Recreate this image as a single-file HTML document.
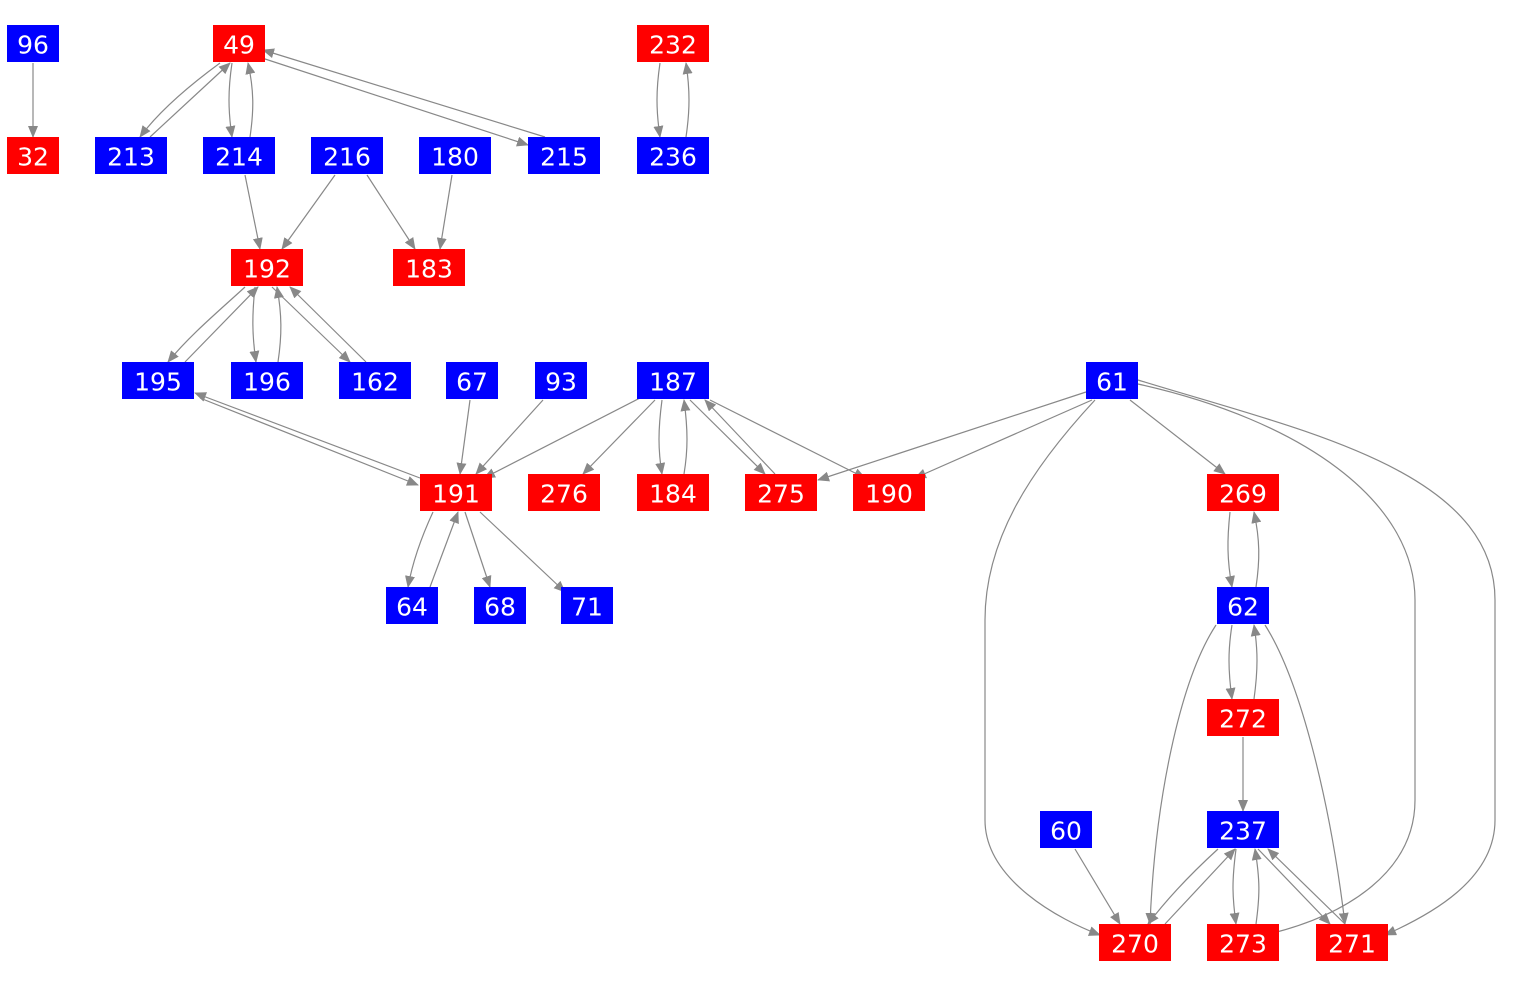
<!DOCTYPE html>
<html><head><meta charset="utf-8"><style>
html,body{margin:0;padding:0;background:#fff;}
svg{display:block;}
text{font-family:"DejaVu Sans","Liberation Sans",sans-serif;font-size:25px;fill:#fff;text-anchor:middle;dominant-baseline:central;}
.e{fill:none;stroke:#888;stroke-width:1.2;marker-end:url(#a);}
.b{fill:#0000ff}.r{fill:#ff0000}
</style></head><body>
<svg width="1525" height="988" viewBox="0 0 1525 988">
<defs><marker id="a" markerWidth="12" markerHeight="10" refX="11" refY="5" orient="auto" markerUnits="userSpaceOnUse"><path d="M0,0 L12,5 L0,10 Z" fill="#888"/></marker></defs>
<g>
<path class="e" d="M33,63 L33,137"/>
<path class="e" d="M220,63 C190,85 160,110 140,137"/>
<path class="e" d="M150,137 L230,63"/>
<path class="e" d="M232,63 C228,90 228,110 232,137"/>
<path class="e" d="M250,137 C254,110 254,90 248,63"/>
<path class="e" d="M262,58 L528,145"/>
<path class="e" d="M545,137 L263,50"/>
<path class="e" d="M660,63 C656,90 656,110 660,137"/>
<path class="e" d="M686,137 C690,110 690,90 686,63"/>
<path class="e" d="M245,175 L260,249"/>
<path class="e" d="M335,175 L282,249"/>
<path class="e" d="M367,175 L415,249"/>
<path class="e" d="M452,175 L440,249"/>
<path class="e" d="M245,287 C220,310 190,335 168,362"/>
<path class="e" d="M185,362 L258,287"/>
<path class="e" d="M255,287 C252,315 252,335 256,362"/>
<path class="e" d="M278,362 C282,335 282,315 277,287"/>
<path class="e" d="M272,287 L350,362"/>
<path class="e" d="M366,362 L290,287"/>
<path class="e" d="M420,478 L195,393"/>
<path class="e" d="M200,398 L418,485"/>
<path class="e" d="M470,400 L460,474"/>
<path class="e" d="M543,400 L476,474"/>
<path class="e" d="M640,398 L484,478"/>
<path class="e" d="M655,400 L583,474"/>
<path class="e" d="M662,400 C658,430 658,450 662,474"/>
<path class="e" d="M684,474 C688,450 688,430 684,400"/>
<path class="e" d="M690,400 L765,474"/>
<path class="e" d="M775,474 L705,400"/>
<path class="e" d="M710,400 L865,478"/>
<path class="e" d="M1086,392 L818,480"/>
<path class="e" d="M1092,400 L915,478"/>
<path class="e" d="M1130,400 L1225,474"/>
<path class="e" d="M1095,400 C1030,470 985,540 985,620 L985,820 C985,880 1060,920 1100,935"/>
<path class="e" d="M1138,384 C1300,420 1415,500 1415,600 L1415,800 C1415,870 1350,915 1265,935"/>
<path class="e" d="M1138,380 C1300,430 1495,470 1495,600 L1495,820 C1495,880 1430,915 1385,935"/>
<path class="e" d="M1230,512 C1227,540 1227,560 1232,587"/>
<path class="e" d="M1256,587 C1260,560 1260,540 1254,512"/>
<path class="e" d="M1216,625 C1180,680 1155,800 1150,924"/>
<path class="e" d="M1232,625 C1228,650 1228,670 1232,699"/>
<path class="e" d="M1254,699 C1258,670 1258,650 1254,625"/>
<path class="e" d="M1265,625 C1300,680 1330,800 1345,924"/>
<path class="e" d="M1243,737 L1243,811"/>
<path class="e" d="M1075,849 L1120,924"/>
<path class="e" d="M1218,849 C1195,870 1170,895 1148,924"/>
<path class="e" d="M1165,924 L1235,849"/>
<path class="e" d="M1236,849 C1232,880 1232,895 1236,924"/>
<path class="e" d="M1256,924 C1260,895 1260,880 1255,849"/>
<path class="e" d="M1258,849 L1330,924"/>
<path class="e" d="M1345,924 L1268,849"/>
<path class="e" d="M433,512 C420,540 412,565 408,587"/>
<path class="e" d="M430,587 L458,512"/>
<path class="e" d="M465,512 L490,587"/>
<path class="e" d="M480,512 L565,592"/>
</g>
<g>
<rect class="b" x="7" y="25" width="52" height="37"/><text x="33" y="45">96</text>
<rect class="r" x="7" y="137" width="52" height="37"/><text x="33" y="157">32</text>
<rect class="r" x="213" y="25" width="52" height="37"/><text x="239" y="45">49</text>
<rect class="b" x="95" y="137" width="72" height="37"/><text x="131" y="157">213</text>
<rect class="b" x="203" y="137" width="72" height="37"/><text x="239" y="157">214</text>
<rect class="b" x="311" y="137" width="72" height="37"/><text x="347" y="157">216</text>
<rect class="b" x="419" y="137" width="72" height="37"/><text x="455" y="157">180</text>
<rect class="b" x="528" y="137" width="72" height="37"/><text x="564" y="157">215</text>
<rect class="r" x="637" y="25" width="72" height="37"/><text x="673" y="45">232</text>
<rect class="b" x="637" y="137" width="72" height="37"/><text x="673" y="157">236</text>
<rect class="r" x="231" y="249" width="72" height="37"/><text x="267" y="269">192</text>
<rect class="r" x="393" y="249" width="72" height="37"/><text x="429" y="269">183</text>
<rect class="b" x="122" y="362" width="72" height="37"/><text x="158" y="382">195</text>
<rect class="b" x="231" y="362" width="72" height="37"/><text x="267" y="382">196</text>
<rect class="b" x="339" y="362" width="72" height="37"/><text x="375" y="382">162</text>
<rect class="b" x="446" y="362" width="52" height="37"/><text x="472" y="382">67</text>
<rect class="b" x="535" y="362" width="52" height="37"/><text x="561" y="382">93</text>
<rect class="b" x="637" y="362" width="72" height="37"/><text x="673" y="382">187</text>
<rect class="b" x="1086" y="362" width="52" height="37"/><text x="1112" y="382">61</text>
<rect class="r" x="420" y="474" width="72" height="37"/><text x="456" y="494">191</text>
<rect class="r" x="528" y="474" width="72" height="37"/><text x="564" y="494">276</text>
<rect class="r" x="637" y="474" width="72" height="37"/><text x="673" y="494">184</text>
<rect class="r" x="745" y="474" width="72" height="37"/><text x="781" y="494">275</text>
<rect class="r" x="853" y="474" width="72" height="37"/><text x="889" y="494">190</text>
<rect class="r" x="1207" y="474" width="72" height="37"/><text x="1243" y="494">269</text>
<rect class="b" x="386" y="587" width="52" height="37"/><text x="412" y="607">64</text>
<rect class="b" x="474" y="587" width="52" height="37"/><text x="500" y="607">68</text>
<rect class="b" x="561" y="587" width="52" height="37"/><text x="587" y="607">71</text>
<rect class="b" x="1217" y="587" width="52" height="37"/><text x="1243" y="607">62</text>
<rect class="r" x="1207" y="699" width="72" height="37"/><text x="1243" y="719">272</text>
<rect class="b" x="1040" y="811" width="52" height="37"/><text x="1066" y="831">60</text>
<rect class="b" x="1207" y="811" width="72" height="37"/><text x="1243" y="831">237</text>
<rect class="r" x="1099" y="924" width="72" height="37"/><text x="1135" y="944">270</text>
<rect class="r" x="1207" y="924" width="72" height="37"/><text x="1243" y="944">273</text>
<rect class="r" x="1316" y="924" width="72" height="37"/><text x="1352" y="944">271</text>
</g>
</svg>
</body></html>
